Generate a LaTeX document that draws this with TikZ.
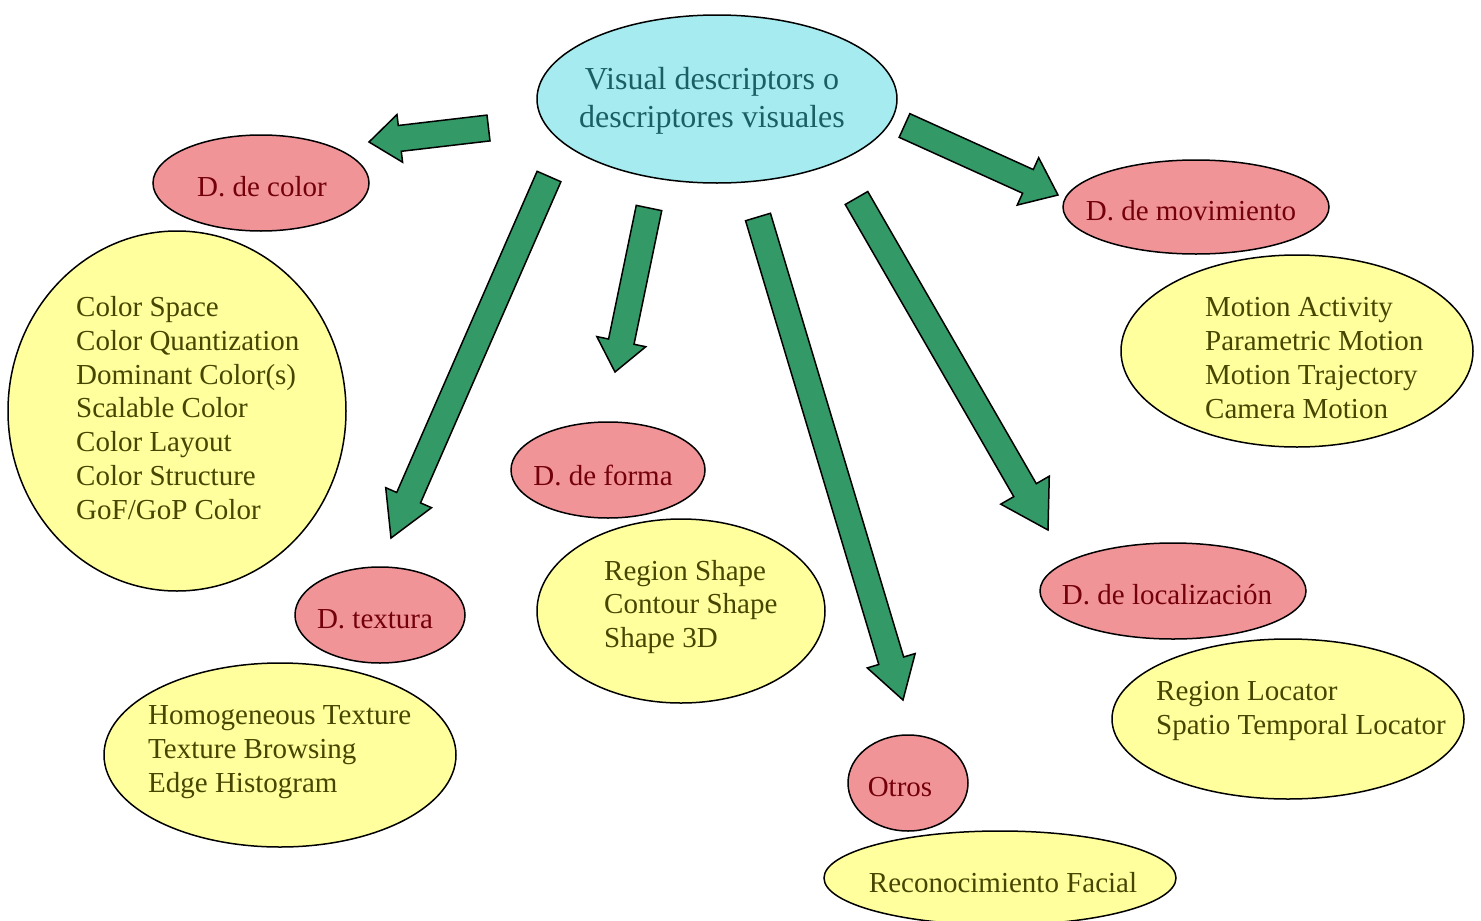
\documentclass[tikz,border=0pt]{standalone}
\usepackage{fontspec}
\setmainfont{Liberation Serif}
\usetikzlibrary{shapes.geometric, calc}

\definecolor{cian}{RGB}{165,235,240}
\definecolor{rosa}{RGB}{240,148,152}
\definecolor{amarillo}{RGB}{255,255,158}
\definecolor{verde}{RGB}{51,153,102}
\definecolor{tcian}{RGB}{25,95,100}
\definecolor{trojo}{RGB}{115,0,10}
\definecolor{tamar}{RGB}{70,70,0}

\tikzset{
  elipse/.style={ellipse, draw, line width=1.5pt, inner sep=0pt},
  raiz/.style={elipse, fill=cian},
  categoria/.style={elipse, fill=rosa},
  conjunto/.style={elipse, fill=amarillo},
  raiztxt/.style={text=tcian, font=\fontsize{32}{38}\selectfont, align=center, inner sep=0pt},
  rotulo/.style={text=trojo, font=\fontsize{29}{34}\selectfont, inner sep=0pt},
  lista/.style={text=tamar, font=\fontsize{29}{33.7}\selectfont, align=left, anchor=west, inner sep=0pt},
  flecha/.style={draw=black, fill=verde, line width=1.5pt, line join=miter},
}

% flecha de bloque: cola, punta, largo de la cabeza, media anchura de la cabeza
\newcommand{\flecha}[4]{%
  \coordinate (fb) at ($(#2)!#3pt!(#1)$);
  \draw[flecha] ($(#1)!13pt!90:(#2)$) -- ($(fb)!13pt!90:(#2)$) -- ($(fb)!#4pt!90:(#2)$) -- (#2)
    -- ($(fb)!#4pt!-90:(#2)$) -- ($(fb)!13pt!-90:(#2)$) -- ($(#1)!13pt!-90:(#2)$) -- cycle;
}

\begin{document}
\begin{tikzpicture}[x=1pt, y=-1pt]
\useasboundingbox (0,0) rectangle (1481,921);

% --- nodo central ---
\node[raiz, minimum width=360, minimum height=168] (vd) at (717,99) {};
\node[raiztxt] (vdtxt) at (712,101) {Visual descriptors o\\descriptores visuales};

% --- D. de color ---
\node[categoria, minimum width=216, minimum height=96] (dcolor) at (261,183) {};
\node[rotulo] (tcolor) at (262,187) {D. de color};
\node[conjunto, minimum width=338, minimum height=360] (cset) at (177,411) {};
\node[lista] (clist) at (76,408) {Color Space\\Color Quantization\\Dominant Color(s)\\Scalable Color\\Color Layout\\Color Structure\\GoF/GoP Color};

% --- D. de movimiento ---
\node[categoria, minimum width=266, minimum height=94] (dmov) at (1196,207) {};
\node[rotulo] (tmov) at (1191,211) {D. de movimiento};
\node[conjunto, minimum width=352, minimum height=192] (mset) at (1297,351) {};
\node[lista] (mlist) at (1205,358) {Motion Activity\\Parametric Motion\\Motion Trajectory\\Camera Motion};

% --- D. textura ---
\node[categoria, minimum width=170, minimum height=96] (dtext) at (380,615) {};
\node[rotulo] (ttext) at (375,619) {D. textura};
\node[conjunto, minimum width=352, minimum height=184] (tset) at (280,755) {};
\node[lista] (tlist) at (148,752) {Homogeneous Texture\\Texture Browsing\\Edge Histogram};

% --- D. de forma ---
\node[categoria, minimum width=194, minimum height=96] (dforma) at (608,470) {};
\node[rotulo] (tforma) at (603,475) {D. de forma};
\node[conjunto, minimum width=288, minimum height=184] (sset) at (681,611) {};
\node[lista] (slist) at (604,607) {Region Shape\\Contour Shape\\Shape 3D};

% --- D. de localizacion ---
\node[categoria, minimum width=266, minimum height=96] (dloc) at (1173,591) {};
\node[rotulo] (tloc) at (1167,595) {D. de localización};
\node[conjunto, minimum width=352, minimum height=160] (lset) at (1288,719) {};
\node[lista] (llist) at (1156,711) {Region Locator\\Spatio Temporal Locator};

% --- Otros ---
\node[categoria, minimum width=120, minimum height=96] (dotros) at (908,783) {};
\node[rotulo] (totros) at (900,787) {Otros};
\node[conjunto, minimum width=352, minimum height=94] (rset) at (1000,878) {};
\node[rotulo, text=tamar] (rtxt) at (1003,883) {Reconocimiento Facial};

% --- flechas ---
\coordinate (t1) at (488.5,128); \coordinate (p1) at (369,142);
\coordinate (t2) at (549,176.5); \coordinate (p2) at (391,538);
\coordinate (t3) at (649,208);   \coordinate (p3) at (615,372);
\coordinate (t4) at (758,217);   \coordinate (p4) at (903,700);
\coordinate (t5) at (856.5,198); \coordinate (p5) at (1048,530);
\coordinate (t6) at (904.5,125.5); \coordinate (p6) at (1058,195);
\foreach \n/\l/\h in {1/31/24, 2/44/25, 3/31/25, 4/41/25, 5/46/28, 6/33/26}
  \flecha{t\n}{p\n}{\l}{\h};

\end{tikzpicture}
\end{document}
